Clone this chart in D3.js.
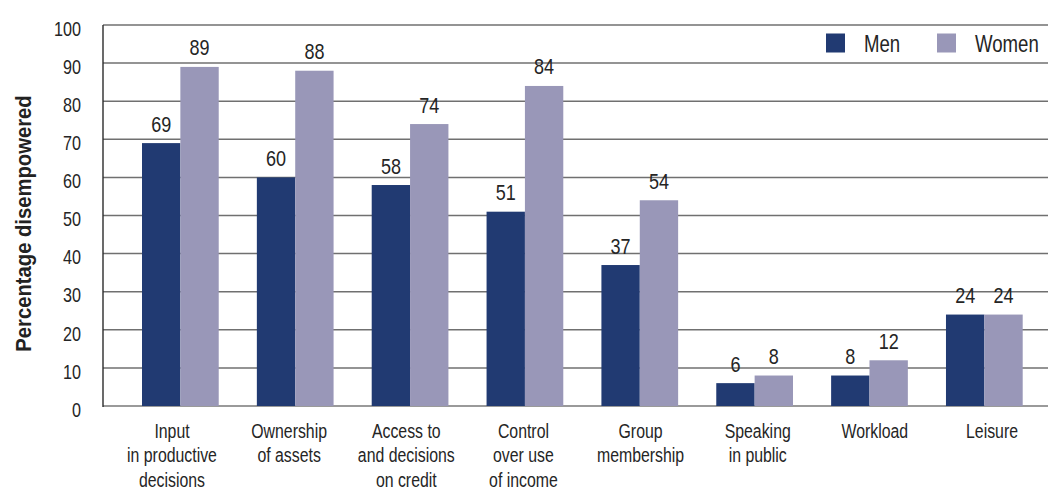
<!DOCTYPE html>
<html>
<head>
<meta charset="utf-8">
<script src="https://cdn.jsdelivr.net/npm/d3@7"></script>
<style>
  html, body { margin: 0; padding: 0; background: #fff; }
  svg { display: block; font-family: "Liberation Sans", Arimo, Arial, sans-serif; }
</style>
</head>
<body>
<svg id="chart" width="1048" height="492"></svg>
<script>
// Categories (multi-line labels) and percentages disempowered
const categories = [
  ["Input", "in productive", "decisions"],
  ["Ownership", "of assets"],
  ["Access to", "and decisions", "on credit"],
  ["Control", "over use", "of income"],
  ["Group", "membership"],
  ["Speaking", "in public"],
  ["Workload"],
  ["Leisure"]
];
const menValues   = [69, 60, 58, 51, 37, 6, 8, 24];
const womenValues = [89, 88, 74, 84, 54, 8, 12, 24];
const seriesNames = ["Men", "Women"];
const seriesColors = ["#213a72", "#9997b8"];
const yTicks = [0, 10, 20, 30, 40, 50, 60, 70, 80, 90, 100];

// Condensed-looking text: drawn at origin, then placed and squeezed horizontally
function place(sel, xf, yf, sx) {
  return sel.attr("x", 0).attr("y", 0)
    .attr("transform", (d, i) => `translate(${xf(d, i)},${yf(d, i)}) scale(${sx},1)`);
}

const svg = d3.select("#chart");
const plotLeft = 103, plotRight = 1048, plotTop = 25, plotBottom = 406;
const textColor = "#252525";

const x = d3.scaleBand()
  .domain(d3.range(categories.length))
  .range([142, 1022.7])
  .paddingInner(0.332)
  .paddingOuter(0);

// Category label positions (slightly wider spread than the bar groups)
const xLabel = d3.scalePoint()
  .domain(d3.range(categories.length))
  .range([172, 992]);

const xs = d3.scaleBand().domain([0, 1]).range([0, x.bandwidth()]);

const y = d3.scaleLinear().domain([0, 100]).range([plotBottom, plotTop]);

// Horizontal gridlines
svg.append("g")
  .selectAll("line")
  .data(yTicks)
  .join("line")
  .attr("x1", plotLeft).attr("x2", plotRight)
  .attr("y1", d => y(d)).attr("y2", d => y(d))
  .attr("stroke", d => d === 0 ? "#9a9a9a" : "#707070")
  .attr("stroke-width", d => d === 0 ? 2 : 1.5);

// Y axis tick labels
const yAxis = d3.axisLeft(y).tickValues(yTicks).tickSize(0).tickPadding(0).tickFormat(d3.format("d"));
const yG = svg.append("g").attr("transform", "translate(81,0)").call(yAxis);
yG.select(".domain").remove();
yG.selectAll("text")
  .attr("x", 0)
  .attr("y", 3)
  .attr("transform", "scale(0.8,1)")
  .attr("font-size", 20.2)
  .attr("fill", textColor)
  .attr("font-family", "inherit")
  .attr("dy", "0.36em");

// Y axis line
svg.append("line")
  .attr("x1", plotLeft).attr("x2", plotLeft)
  .attr("y1", plotTop).attr("y2", plotBottom + 1)
  .attr("stroke", "#2b2b2b").attr("stroke-width", 1.4);

// Bars
const rows = categories.map((c, i) => ({ i, vals: [menValues[i], womenValues[i]] }));
const groups = svg.append("g").selectAll("g")
  .data(rows)
  .join("g")
  .attr("transform", d => `translate(${x(d.i)},0)`);

groups.selectAll("rect")
  .data(d => d.vals.map((v, s) => ({ v, s })))
  .join("rect")
  .attr("x", d => xs(d.s))
  .attr("width", xs.bandwidth())
  .attr("y", d => y(d.v))
  .attr("height", d => y(0) - y(d.v))
  .attr("fill", d => seriesColors[d.s]);

// Value labels above each bar
place(
  groups.selectAll("text.val")
    .data(d => d.vals.map((v, s) => ({ v, s })))
    .join("text")
    .attr("class", "val")
    .attr("text-anchor", "middle")
    .attr("font-size", 22.8)
    .attr("fill", textColor)
    .text(d => d.v),
  d => xs(d.s) + xs.bandwidth() / 2,
  d => y(d.v) - 11.5,
  0.79
);

// Category labels
const catG = place(
  svg.append("g").selectAll("text")
    .data(categories)
    .join("text")
    .attr("text-anchor", "middle")
    .attr("font-size", 21)
    .attr("fill", textColor),
  (d, i) => xLabel(i),
  () => 438,
  0.755
);
catG.selectAll("tspan")
  .data(d => d)
  .join("tspan")
  .attr("x", 0)
  .attr("dy", (d, j) => j === 0 ? 0 : 24.4)
  .text(d => d);

// Y axis title
svg.append("text")
  .attr("transform", "translate(31,223.5) rotate(-90) scale(0.9,1)")
  .attr("text-anchor", "middle")
  .attr("font-size", 22.5)
  .attr("font-weight", "bold")
  .attr("fill", "#222")
  .text("Percentage disempowered");

// Legend
const legendX = [826, 937];
const legend = svg.append("g").selectAll("g")
  .data(seriesNames)
  .join("g")
  .attr("transform", (d, i) => `translate(${legendX[i]},33.5)`);
legend.append("rect")
  .attr("width", 19).attr("height", 19)
  .attr("fill", (d, i) => seriesColors[i]);
legend.append("text")
  .attr("transform", "translate(38,18.8) scale(0.76,1)")
  .attr("font-size", 24.5)
  .attr("fill", textColor)
  .text(d => d);
</script>
</body>
</html>
